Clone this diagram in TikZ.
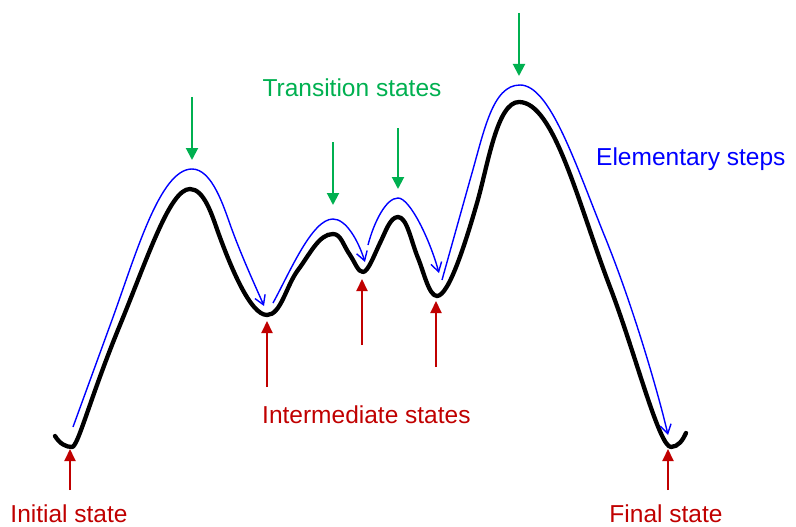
\documentclass[tikz,border=0pt]{standalone}
\usepackage{fontspec}
\setmainfont{Liberation Sans}
\usetikzlibrary{arrows.meta}
\definecolor{tgreen}{RGB}{0,176,80}
\definecolor{ired}{RGB}{192,0,0}
\definecolor{sblue}{RGB}{0,0,255}
\begin{document}
\begin{tikzpicture}[x=1pt,y=-1pt,
  landscape/.style={line width=4.3pt,line cap=round,line join=round},
  stepline/.style={sblue,line width=1.4pt,-{Straight Barb[length=9pt,width=11pt,line width=1.4pt]}},
  tsarrow/.style={tgreen,line width=2pt,-{Triangle[length=12pt,width=12pt]}},
  isarrow/.style={ired,line width=2pt,-{Triangle[length=12pt,width=11pt]}},
  lab/.style={font=\fontsize{24.5}{28}\selectfont,anchor=base,inner sep=0pt}]
\useasboundingbox (0,0) rectangle (796,527);
% energy landscape
\draw[landscape] (55,436) .. controls (60,444) and (66,447) .. (72,447)
 .. controls (78,447) and (89.6,399) .. (120,325)
 .. controls (148.5,255.6) and (170,189) .. (190,189)
 .. controls (204,189) and (212,215) .. (218,232)
 .. controls (230,265) and (250,315) .. (267,315)
 .. controls (281,315) and (286,286) .. (298,270)
 .. controls (310,254) and (319,234) .. (333,234)
 .. controls (341,234) and (343,245) .. (350,255)
 .. controls (355.5,263.3) and (358,272) .. (363,272)
 .. controls (368,272) and (374,255.5) .. (380,243)
 .. controls (385.4,232.3) and (390,217) .. (398,217)
 .. controls (407,217) and (411,241) .. (418,258)
 .. controls (424,272.7) and (429,296) .. (437,296)
 .. controls (449,296) and (466,241) .. (477,203)
 .. controls (488,165) and (497,102) .. (519,102)
 .. controls (554,102) and (578,203) .. (610,287)
 .. controls (635,352) and (659,447) .. (671,447)
 .. controls (678,447) and (683,440) .. (686,433);
% elementary steps
\draw[stepline] (73,427) -- (112,320)
 .. controls (136,254) and (160,169) .. (192,169)
 .. controls (212,169) and (223.5,206) .. (231,227)
 .. controls (243,260) and (259,294) .. (264,306);
\draw[stepline] (273,303) .. controls (290,272) and (312,219) .. (333,219)
 .. controls (346,219) and (358,240) .. (365,262);
\draw[stepline] (368,245) .. controls (374,222) and (386,198) .. (398,198)
 .. controls (410,198) and (430,240) .. (439,273);
\draw[stepline] (442,280) -- (470,180)
 .. controls (484,132) and (492,85) .. (520,85)
 .. controls (550,85) and (575,163) .. (605,237)
 .. controls (635,311) and (660,400) .. (668,435);
% transition state pointers
\coordinate (g1a) at (192,97);  \coordinate (g1b) at (192,160);
\coordinate (g2a) at (333,142); \coordinate (g2b) at (333,205);
\coordinate (g3a) at (398,128); \coordinate (g3b) at (398,189);
\coordinate (g4a) at (519,13);  \coordinate (g4b) at (519,76);
\draw[tsarrow] (g1a) -- (g1b);
\draw[tsarrow] (g2a) -- (g2b);
\draw[tsarrow] (g3a) -- (g3b);
\draw[tsarrow] (g4a) -- (g4b);
% state pointers
\coordinate (r1a) at (70,490);  \coordinate (r1b) at (70,449);
\coordinate (r2a) at (267,387); \coordinate (r2b) at (267,321);
\coordinate (r3a) at (362,345); \coordinate (r3b) at (362,279);
\coordinate (r4a) at (436,367); \coordinate (r4b) at (436,301);
\coordinate (r5a) at (668,490); \coordinate (r5b) at (668,449);
\draw[isarrow] (r1a) -- (r1b);
\draw[isarrow] (r2a) -- (r2b);
\draw[isarrow] (r3a) -- (r3b);
\draw[isarrow] (r4a) -- (r4b);
\draw[isarrow] (r5a) -- (r5b);
% labels
\node[lab,text=tgreen] (ts) at (352,97) {Transition states};
\node[lab,text=sblue,anchor=base west] (es) at (596,165) {Elementary steps};
\node[lab,text=ired,anchor=base west] (is) at (262,423) {Intermediate states};
\node[lab,text=ired] (ini) at (69,522) {Initial state};
\node[lab,text=ired] (fin) at (666,522) {Final state};
\end{tikzpicture}
\end{document}
